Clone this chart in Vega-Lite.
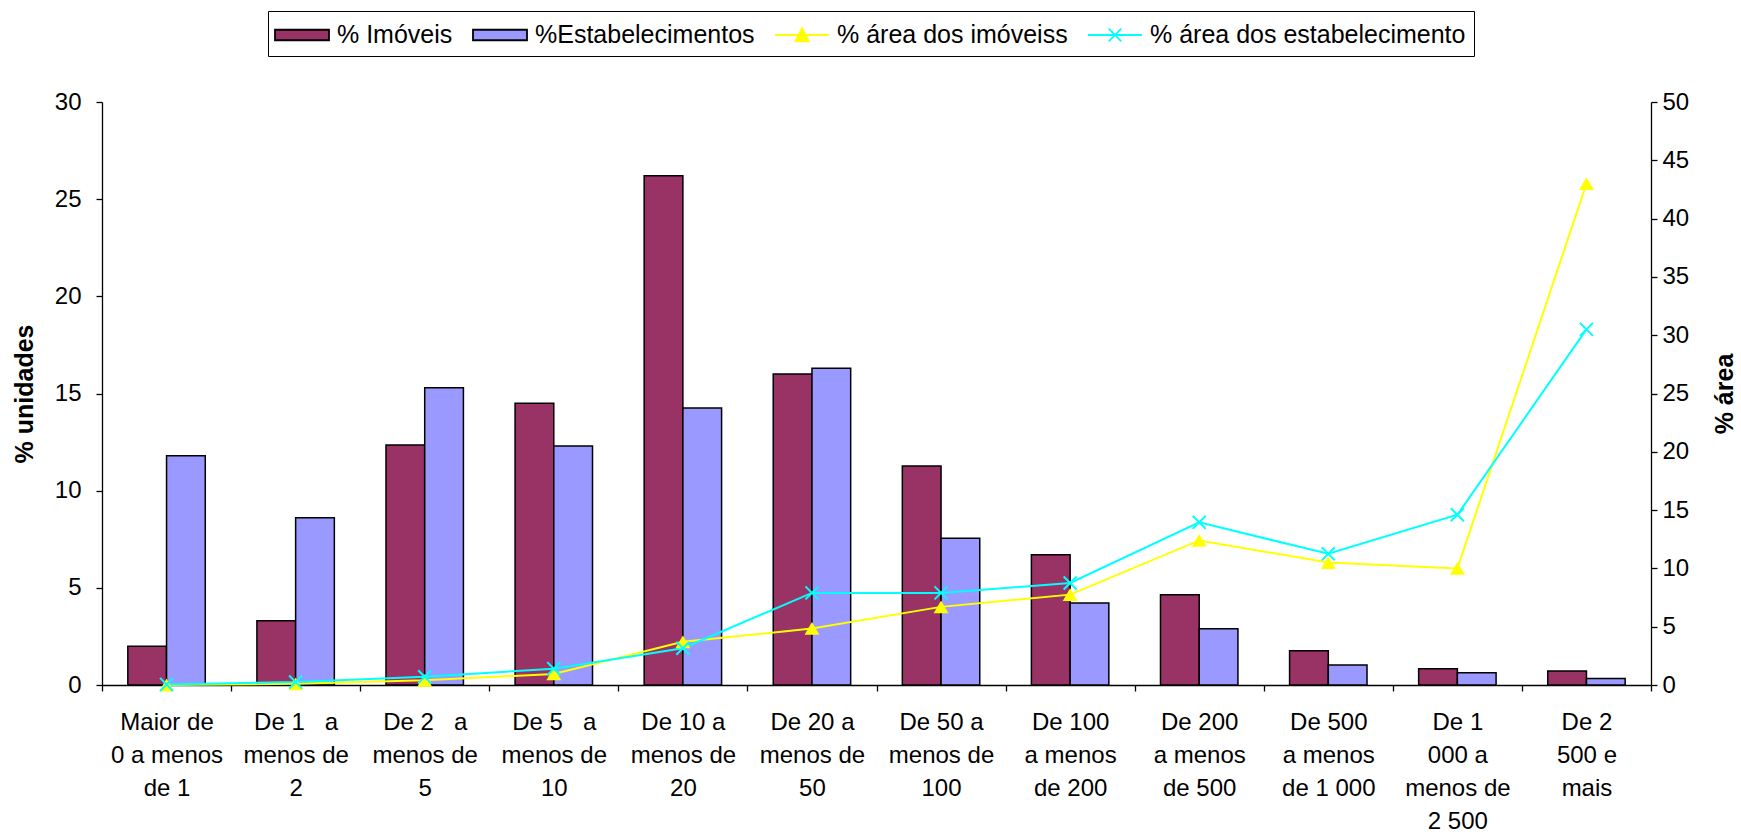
{
  "$schema": "https://vega.github.io/schema/vega-lite/v6.json",
  "width": 1549,
  "height": 583,
  "autosize": {"type": "none"},
  "padding": {"left": 102, "top": 102, "right": 90, "bottom": 150},
  "background": "white",
  "config": {
    "view": {"fill": "#C0C0C0", "stroke": null},
    "font": "Liberation Sans",
    "axis": {
      "domainColor": "black", "tickColor": "black", "labelColor": "black", "titleColor": "black",
      "labelFont": "Liberation Sans", "titleFont": "Liberation Sans", "grid": false,
      "labelFontSize": 24, "titleFontSize": 25, "titleFontWeight": "bold",
      "domainWidth": 1.3, "tickWidth": 1.3
    }
  },
  "datasets": {
    "barras": [
      {"faixa": "Maior de|0 a menos|de 1", "serie": "% Imóveis", "valor": 2.0},
      {"faixa": "De 1\u00a0\u00a0\u00a0a|menos de|2", "serie": "% Imóveis", "valor": 3.3},
      {"faixa": "De 2\u00a0\u00a0\u00a0a|menos de|5", "serie": "% Imóveis", "valor": 12.35},
      {"faixa": "De 5\u00a0\u00a0\u00a0a|menos de|10", "serie": "% Imóveis", "valor": 14.5},
      {"faixa": "De 10 a|menos de|20", "serie": "% Imóveis", "valor": 26.2},
      {"faixa": "De 20 a|menos de|50", "serie": "% Imóveis", "valor": 16.0},
      {"faixa": "De 50 a|menos de|100", "serie": "% Imóveis", "valor": 11.27},
      {"faixa": "De 100|a menos|de 200", "serie": "% Imóveis", "valor": 6.7},
      {"faixa": "De 200|a menos|de 500", "serie": "% Imóveis", "valor": 4.64},
      {"faixa": "De 500|a menos|de 1 000", "serie": "% Imóveis", "valor": 1.76},
      {"faixa": "De 1|000 a|menos de|2 500", "serie": "% Imóveis", "valor": 0.83},
      {"faixa": "De 2|500 e|mais", "serie": "% Imóveis", "valor": 0.72},
      {"faixa": "Maior de|0 a menos|de 1", "serie": "%Estabelecimentos", "valor": 11.8},
      {"faixa": "De 1\u00a0\u00a0\u00a0a|menos de|2", "serie": "%Estabelecimentos", "valor": 8.6},
      {"faixa": "De 2\u00a0\u00a0\u00a0a|menos de|5", "serie": "%Estabelecimentos", "valor": 15.3},
      {"faixa": "De 5\u00a0\u00a0\u00a0a|menos de|10", "serie": "%Estabelecimentos", "valor": 12.3},
      {"faixa": "De 10 a|menos de|20", "serie": "%Estabelecimentos", "valor": 14.25},
      {"faixa": "De 20 a|menos de|50", "serie": "%Estabelecimentos", "valor": 16.3},
      {"faixa": "De 50 a|menos de|100", "serie": "%Estabelecimentos", "valor": 7.55},
      {"faixa": "De 100|a menos|de 200", "serie": "%Estabelecimentos", "valor": 4.22},
      {"faixa": "De 200|a menos|de 500", "serie": "%Estabelecimentos", "valor": 2.9},
      {"faixa": "De 500|a menos|de 1 000", "serie": "%Estabelecimentos", "valor": 1.03},
      {"faixa": "De 1|000 a|menos de|2 500", "serie": "%Estabelecimentos", "valor": 0.63},
      {"faixa": "De 2|500 e|mais", "serie": "%Estabelecimentos", "valor": 0.34}
    ],
    "areas": [
      {"faixa": "Maior de|0 a menos|de 1", "ordem": 1, "serie": "% área dos imóveiss", "valor": 0.0},
      {"faixa": "De 1\u00a0\u00a0\u00a0a|menos de|2", "ordem": 2, "serie": "% área dos imóveiss", "valor": 0.1},
      {"faixa": "De 2\u00a0\u00a0\u00a0a|menos de|5", "ordem": 3, "serie": "% área dos imóveiss", "valor": 0.4},
      {"faixa": "De 5\u00a0\u00a0\u00a0a|menos de|10", "ordem": 4, "serie": "% área dos imóveiss", "valor": 0.95},
      {"faixa": "De 10 a|menos de|20", "ordem": 5, "serie": "% área dos imóveiss", "valor": 3.7},
      {"faixa": "De 20 a|menos de|50", "ordem": 6, "serie": "% área dos imóveiss", "valor": 4.85},
      {"faixa": "De 50 a|menos de|100", "ordem": 7, "serie": "% área dos imóveiss", "valor": 6.7},
      {"faixa": "De 100|a menos|de 200", "ordem": 8, "serie": "% área dos imóveiss", "valor": 7.75},
      {"faixa": "De 200|a menos|de 500", "ordem": 9, "serie": "% área dos imóveiss", "valor": 12.4},
      {"faixa": "De 500|a menos|de 1 000", "ordem": 10, "serie": "% área dos imóveiss", "valor": 10.5},
      {"faixa": "De 1|000 a|menos de|2 500", "ordem": 11, "serie": "% área dos imóveiss", "valor": 10.0},
      {"faixa": "De 2|500 e|mais", "ordem": 12, "serie": "% área dos imóveiss", "valor": 43.0},
      {"faixa": "Maior de|0 a menos|de 1", "ordem": 1, "serie": "% área dos estabelecimento", "valor": 0.05},
      {"faixa": "De 1\u00a0\u00a0\u00a0a|menos de|2", "ordem": 2, "serie": "% área dos estabelecimento", "valor": 0.25},
      {"faixa": "De 2\u00a0\u00a0\u00a0a|menos de|5", "ordem": 3, "serie": "% área dos estabelecimento", "valor": 0.7},
      {"faixa": "De 5\u00a0\u00a0\u00a0a|menos de|10", "ordem": 4, "serie": "% área dos estabelecimento", "valor": 1.4},
      {"faixa": "De 10 a|menos de|20", "ordem": 5, "serie": "% área dos estabelecimento", "valor": 3.15},
      {"faixa": "De 20 a|menos de|50", "ordem": 6, "serie": "% área dos estabelecimento", "valor": 7.9},
      {"faixa": "De 50 a|menos de|100", "ordem": 7, "serie": "% área dos estabelecimento", "valor": 7.9},
      {"faixa": "De 100|a menos|de 200", "ordem": 8, "serie": "% área dos estabelecimento", "valor": 8.75},
      {"faixa": "De 200|a menos|de 500", "ordem": 9, "serie": "% área dos estabelecimento", "valor": 13.95},
      {"faixa": "De 500|a menos|de 1 000", "ordem": 10, "serie": "% área dos estabelecimento", "valor": 11.25},
      {"faixa": "De 1|000 a|menos de|2 500", "ordem": 11, "serie": "% área dos estabelecimento", "valor": 14.6},
      {"faixa": "De 2|500 e|mais", "ordem": 12, "serie": "% área dos estabelecimento", "valor": 30.5}
    ],
    "legenda": [
      {"serie": "% Imóveis"},
      {"serie": "%Estabelecimentos"},
      {"serie": "% área dos imóveiss"},
      {"serie": "% área dos estabelecimento"}
    ]
  },
  "layer": [
    {
      "data": {"name": "barras"},
      "mark": {"type": "bar", "stroke": "black", "strokeWidth": 1.5},
      "encoding": {
        "x": {
          "field": "faixa", "type": "nominal",
          "scale": {
            "domain": ["Maior de|0 a menos|de 1", "De 1\u00a0\u00a0\u00a0a|menos de|2", "De 2\u00a0\u00a0\u00a0a|menos de|5", "De 5\u00a0\u00a0\u00a0a|menos de|10", "De 10 a|menos de|20", "De 20 a|menos de|50", "De 50 a|menos de|100", "De 100|a menos|de 200", "De 200|a menos|de 500", "De 500|a menos|de 1 000", "De 1|000 a|menos de|2 500", "De 2|500 e|mais"],
            "paddingInner": 0, "paddingOuter": 0
          },
          "axis": {
            "title": null, "tickBand": "extent", "tickSize": 6, "labelPadding": 19,
            "labelAngle": 0, "labelFontSize": 24, "labelLineHeight": 33,
            "labelExpr": "split(datum.label, '|')", "labelLimit": 400,
            "labelOverlap": false, "labelFlush": false, "labelBaseline": "top", "labelAlign": "center",
            "encode": {"ticks": {"update": {"y": {"value": -6}}}}
          }
        },
        "xOffset": {
          "field": "serie", "type": "nominal",
          "scale": {"domain": ["% Imóveis", "%Estabelecimentos"], "paddingInner": 0, "paddingOuter": 0.667}
        },
        "y": {
          "field": "valor", "type": "quantitative",
          "scale": {"domain": [0, 30], "nice": false},
          "axis": {
            "title": "% unidades", "values": [0, 5, 10, 15, 20, 25, 30],
            "tickSize": 6, "labelPadding": 15, "titleAngle": 270, "titleX": -78,
            "titleBaseline": "middle", "titleAlign": "center",
            "encode": {"ticks": {"update": {"x": {"value": 6}}}}
          }
        },
        "color": {
          "field": "serie", "type": "nominal",
          "scale": {
            "domain": ["% Imóveis", "%Estabelecimentos", "% área dos imóveiss", "% área dos estabelecimento"],
            "range": ["#993366", "#9999FF", "#FFFF00", "#00FFFF"]
          },
          "legend": null
        }
      }
    },
    {
      "data": {"name": "areas"},
      "encoding": {
        "x": {"field": "faixa", "type": "nominal"},
        "y": {
          "field": "valor", "type": "quantitative",
          "scale": {"domain": [0, 50], "nice": false},
          "axis": {
            "orient": "right", "title": "% área", "values": [0, 5, 10, 15, 20, 25, 30, 35, 40, 45, 50],
            "tickSize": 6, "labelPadding": 5, "titleAngle": 270, "titleX": 73,
            "titleBaseline": "middle", "titleAlign": "center",
            "encode": {"ticks": {"update": {"x": {"value": -6}}}}
          }
        }
      },
      "layer": [
        {
          "mark": {"type": "line", "strokeWidth": 2},
          "encoding": {
            "color": {"field": "serie", "type": "nominal", "legend": null},
            "order": {"field": "ordem", "type": "quantitative"}
          }
        },
        {
          "transform": [{"filter": "datum.serie === '% área dos imóveiss'"}],
          "mark": {"type": "point", "shape": "triangle-up", "filled": true, "size": 220, "opacity": 1, "color": "#FFFF00"},
          "encoding": {}
        },
        {
          "transform": [{"filter": "datum.serie === '% área dos estabelecimento'"}],
          "mark": {"type": "point", "shape": "M-1,-1L1,1M-1,1L1,-1", "filled": false, "size": 170, "stroke": "#00FFFF", "strokeWidth": 2, "opacity": 1},
          "encoding": {}
        }
      ]
    },
    {
      "data": {"name": "legenda"},
      "mark": {"type": "point", "filled": true, "size": 0, "opacity": 1},
      "encoding": {
        "fill": {
          "field": "serie", "type": "nominal", "sort": null,
          "scale": {"range": ["#993366", "#9999FF", "#FFFF00", "transparent"]},
          "legend": {
            "orient": "none", "legendX": 166, "legendY": -91,
            "direction": "horizontal", "columns": 4, "title": null,
            "labelFont": "Liberation Sans", "labelFontSize": 25, "labelColor": "black",
            "symbolSize": 900, "symbolOffset": 10, "labelOffset": 19, "symbolStrokeWidth": 1.8,
            "columnPadding": 16, "padding": 8,
            "strokeColor": "black", "fillColor": "white", "labelLimit": 600
          }
        },
        "stroke": {
          "field": "serie", "type": "nominal", "sort": null,
          "scale": {"range": ["black", "black", "#FFFF00", "#00FFFF"]}
        },
        "shape": {
          "field": "serie", "type": "nominal", "sort": null,
          "scale": {"range": ["M-1.8,-0.35H1.8V0.35H-1.8Z", "M-1.8,-0.35H1.8V0.35H-1.8Z", "M-1.8,0H1.8M0,-0.45L0.45,0.42H-0.45Z", "M-1.8,0H1.8M-0.42,-0.42L0.42,0.42M-0.42,0.42L0.42,-0.42"]}
        }
      }
    }
  ],
  "resolve": {"scale": {"y": "independent"}}
}
